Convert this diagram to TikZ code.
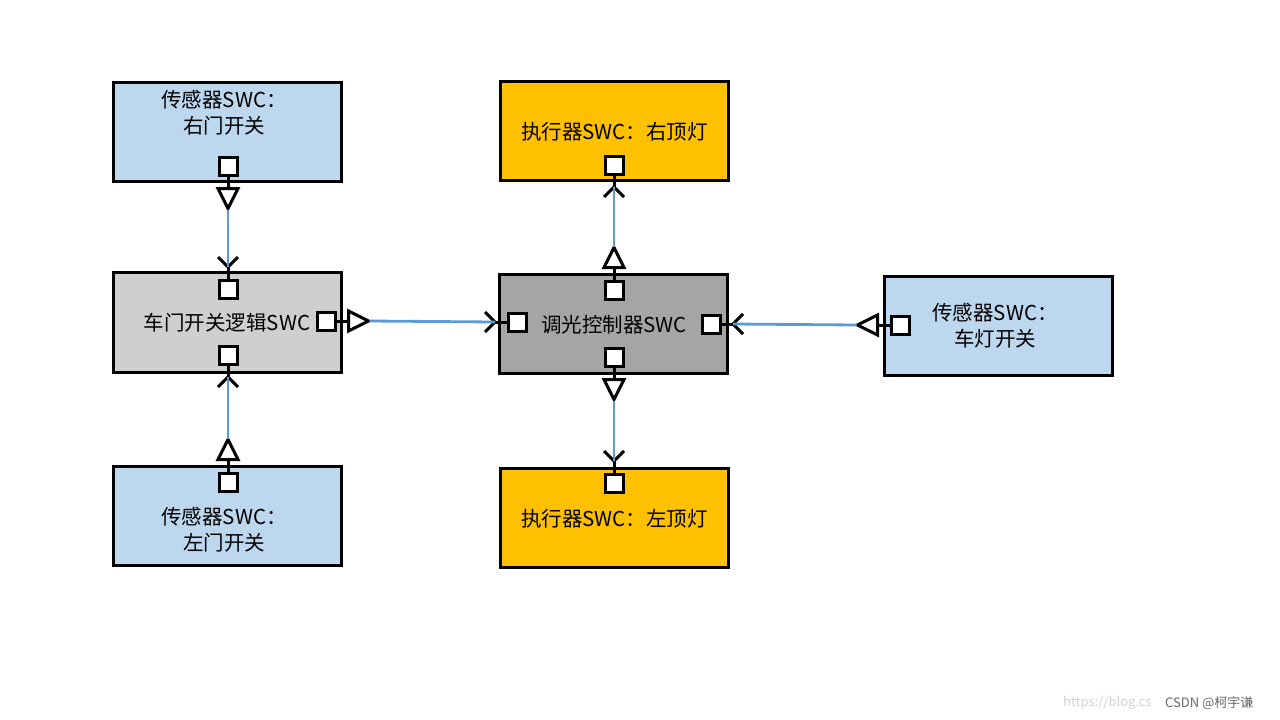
\documentclass[tikz,border=0pt]{standalone}
\usepackage{fontspec}
\setmainfont{Noto Sans CJK SC}
\usetikzlibrary{calc}
\definecolor{lblue}{HTML}{BDD7EE}
\definecolor{lgray}{HTML}{D0CECE}
\definecolor{dgray}{HTML}{A5A5A5}
\definecolor{gold}{HTML}{FFC000}
\definecolor{wire}{HTML}{5B9BD5}
\tikzset{
  swc/.style={draw=black, line width=3pt, minimum width=228.5pt, minimum height=99.5pt, inner sep=0pt},
  port/.style={draw=black, fill=white, line width=3pt, minimum size=18pt, inner sep=0pt},
  lbl/.style={font=\fontsize{20.5}{26}\selectfont, align=center, inner sep=0pt},
  stem/.style={line width=3pt},
  tri/.style={draw=black, fill=white, line width=3pt, line join=miter},
  chev/.style={line width=3pt},
  wireln/.style={draw=wire, line width=2.8pt},
}
\newcommand\sendarrow[4]{%
  \draw[stem] (#1) -- ($(#1)+12*#2$);
  \draw[tri] ($(#1)+12*#2+10*#3$) -- ($(#1)+12*#2-10*#3$) -- ($(#1)+32*#2$) -- cycle;
  \coordinate (#4) at ($(#1)+33*#2$);
}
\newcommand\recvarrow[4]{%
  \coordinate (#4) at ($(#1)+11.5*#2$);
  \draw[stem] (#1) -- (#4);
  \draw[chev] ($(#4)+10*#2+10*#3$) -- (#4) -- ($(#4)+10*#2-10*#3$);
}
\begin{document}
\begin{tikzpicture}[x=1pt,y=-1pt]
\useasboundingbox (0,0) rectangle (1280,720);
% boxes
\node[swc, fill=lblue] (A) at (227.5,132) {};
\node[swc, fill=lgray] (B) at (227.5,322.5) {};
\node[swc, fill=lblue] (C) at (227.5,516) {};
\node[swc, fill=gold]  (D) at (614.5,131) {};
\node[swc, fill=dgray] (E) at (613.5,324) {};
\node[swc, fill=lblue] (F) at (998.5,326) {};
\node[swc, fill=gold]  (G) at (614.5,518) {};
% labels
\node[lbl] (lA) at (224,113) {传感器SWC：\\右门开关};
\node[lbl] (lB) at (227,323) {车门开关逻辑SWC};
\node[lbl] (lC) at (224,529.5) {传感器SWC：\\左门开关};
\node[lbl] (lD) at (614.5,132) {执行器SWC：右顶灯};
\node[lbl] (lE) at (614,325) {调光控制器SWC};
\node[lbl] (lF) at (995,326) {传感器SWC：\\车灯开关};
\node[lbl] (lG) at (614.5,519) {执行器SWC：左顶灯};
% ports
\node[port] (pA)  at (228,166) {};
\node[port] (pBt) at (228,289) {};
\node[port] (pBb) at (228,355) {};
\node[port] (pBr) at (326,321) {};
\node[port] (pC)  at (228,482) {};
\node[port] (pD)  at (614,165) {};
\node[port] (pEt) at (614,290) {};
\node[port] (pEb) at (614,357) {};
\node[port] (pEl) at (517,322) {};
\node[port] (pEr) at (711,324) {};
\node[port] (pF)  at (900,325) {};
\node[port] (pG)  at (614,483) {};
% senders
\sendarrow{pA.south}{(0,1)}{(1,0)}{sA}
\sendarrow{pBr.east}{(1,0)}{(0,1)}{sB}
\sendarrow{pC.north}{(0,-1)}{(1,0)}{sC}
\sendarrow{pEt.north}{(0,-1)}{(1,0)}{sEt}
\sendarrow{pEb.south}{(0,1)}{(1,0)}{sEb}
\sendarrow{pF.west}{(-1,0)}{(0,1)}{sF}
% receivers
\recvarrow{pBt.north}{(0,-1)}{(1,0)}{rBt}
\recvarrow{pEl.west}{(-1,0)}{(0,1)}{rEl}
\recvarrow{pBb.south}{(0,1)}{(1,0)}{rBb}
\recvarrow{pD.south}{(0,1)}{(1,0)}{rD}
\recvarrow{pG.north}{(0,-1)}{(1,0)}{rG}
\recvarrow{pEr.east}{(1,0)}{(0,1)}{rEr}
% wires
\draw[wireln] (sA) -- (rBt);
\draw[wireln] (sB) -- (rEl);
\draw[wireln] (sC) -- (rBb);
\draw[wireln] (sEt) -- (rD);
\draw[wireln] (sEb) -- (rG);
\draw[wireln] (sF) -- (rEr);
% watermark
\node[font=\fontsize{13}{13}\selectfont, text=black!18, anchor=west, inner sep=0pt] (wm1) at (1063,703) {https://blog.cs};
\node[font=\fontsize{13}{13}\selectfont, text=black!60, anchor=west, inner sep=0pt] (wm2) at (1165,703) {CSDN @柯宇谦};
\end{tikzpicture}
\end{document}
